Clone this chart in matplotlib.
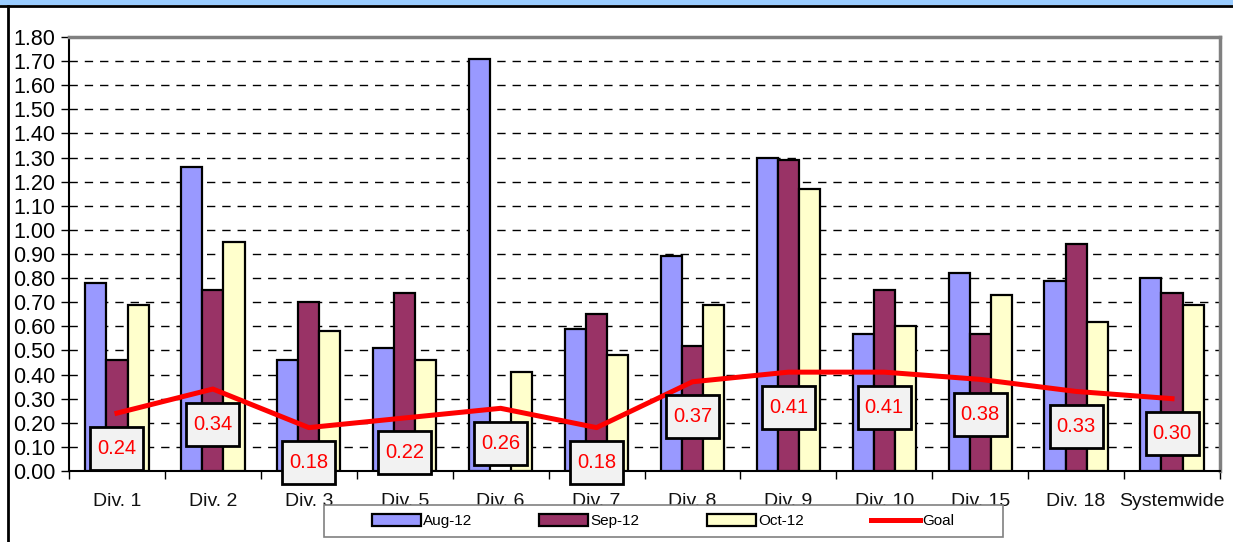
import numpy as np
import matplotlib.pyplot as plt
from matplotlib.lines import Line2D
from matplotlib.patches import Rectangle, Patch
from matplotlib.transforms import ScaledTranslation

plt.rcParams['font.family'] = ['Liberation Sans', 'DejaVu Sans']

# 数据
categories = ['Div. 1', 'Div. 2', 'Div. 3', 'Div. 5', 'Div. 6', 'Div. 7', 'Div. 8',
              'Div. 9', 'Div. 10', 'Div. 15', 'Div. 18', 'Systemwide']
aug12 = [0.78, 1.26, 0.46, 0.51, 1.71, 0.59, 0.89, 1.30, 0.57, 0.82, 0.79, 0.80]
sep12 = [0.46, 0.75, 0.70, 0.74, np.nan, 0.65, 0.52, 1.29, 0.75, 0.57, 0.94, 0.74]
oct12 = [0.69, 0.95, 0.58, 0.46, 0.41, 0.48, 0.69, 1.17, 0.60, 0.73, 0.62, 0.69]
goal = [0.24, 0.34, 0.18, 0.22, 0.26, 0.18, 0.37, 0.41, 0.41, 0.38, 0.33, 0.30]

series_names = ['Aug-12', 'Sep-12', 'Oct-12']
series_colors = ['#9999ff', '#993366', '#ffffcc']

fig = plt.figure(figsize=(12.33, 5.42), dpi=100)
ax = fig.add_axes([69 / 1233, 1 - 471 / 542, (1220 - 69) / 1233, (471 - 37) / 542])

x = np.arange(len(categories))
w = 0.22
for i, (vals, col) in enumerate(zip([aug12, sep12, oct12], series_colors)):
    ax.bar(x + (i - 1) * w, vals, width=w, color=col, edgecolor='black',
           linewidth=1.6, zorder=3)

# 目标线
ax.plot(x, goal, color='red', linewidth=3.6, zorder=4)

# 目标值标注框（框大小以英寸计，位于数据点下方）
box_w, box_h, box_off = 0.53, 0.43, 0.35
for xi, g in zip(x, goal):
    trans = fig.dpi_scale_trans + ScaledTranslation(xi, g, ax.transData)
    ax.add_patch(Rectangle((-box_w / 2, -box_off - box_h / 2), box_w, box_h,
                           transform=trans, facecolor='#f2f2f2', edgecolor='black',
                           linewidth=2, zorder=5, clip_on=False))
    ax.text(0, -box_off, f'{g:.2f}', transform=trans, ha='center', va='center',
            fontsize=14.5, color='red', zorder=6, clip_on=False)

ax.set_xlim(-0.5, len(categories) - 0.5)
ax.set_ylim(0, 1.8)
yt = np.arange(0, 1.81, 0.1)
ax.set_yticks(yt)
ax.set_yticklabels([f'{v:.2f}' for v in yt], fontsize=15.5)
ax.tick_params(axis='y', direction='out', length=6, width=1, pad=4)

ax.set_xticks(x)
ax.set_xticklabels(categories, fontsize=14, color='#111111')
ax.tick_params(axis='x', which='major', length=0, pad=16)
ax.set_xticks(np.arange(-0.5, len(categories), 1), minor=True)
ax.tick_params(axis='x', which='minor', direction='out', length=6, width=1)

ax.yaxis.grid(True, linestyle=(0, (6, 5)), color='black', linewidth=1, zorder=0)
ax.set_axisbelow(True)

for s in ['left', 'bottom']:
    ax.spines[s].set_color('black')
    ax.spines[s].set_linewidth(1.5)
for s in ['top', 'right']:
    ax.spines[s].set_color('#808080')
    ax.spines[s].set_linewidth(2.5)

# 图例（白底灰框）
fig.add_artist(Rectangle((324 / 1233, 5 / 542), 679 / 1233, 32 / 542,
                         transform=fig.transFigure, facecolor='white',
                         edgecolor='#808080', linewidth=1.2, zorder=10))
handles = [Patch(facecolor=c, edgecolor='black', linewidth=1.6) for c in series_colors]
handles.append(Line2D([0], [0], color='red', linewidth=3.6))
leg = fig.legend(handles, series_names + ['Goal'], ncol=4, loc='center',
                 bbox_to_anchor=(663 / 1233, 21 / 542), frameon=False,
                 handlelength=3.2, handleheight=0.8, handletextpad=0.15,
                 columnspacing=4.4, borderaxespad=0, fontsize=11)
leg.set_zorder(11)

# 外框
fig.add_artist(Rectangle((0, 1 - 4 / 542), 1, 4 / 542, transform=fig.transFigure,
                         color='#99ccff', zorder=0))
fig.add_artist(Line2D([0, 1], [1 - 6 / 542, 1 - 6 / 542], transform=fig.transFigure,
                      color='black', linewidth=2))
fig.add_artist(Line2D([8 / 1233, 8 / 1233], [0, 1 - 6 / 542], transform=fig.transFigure,
                      color='black', linewidth=2))

fig.savefig('out.png', dpi=100)
